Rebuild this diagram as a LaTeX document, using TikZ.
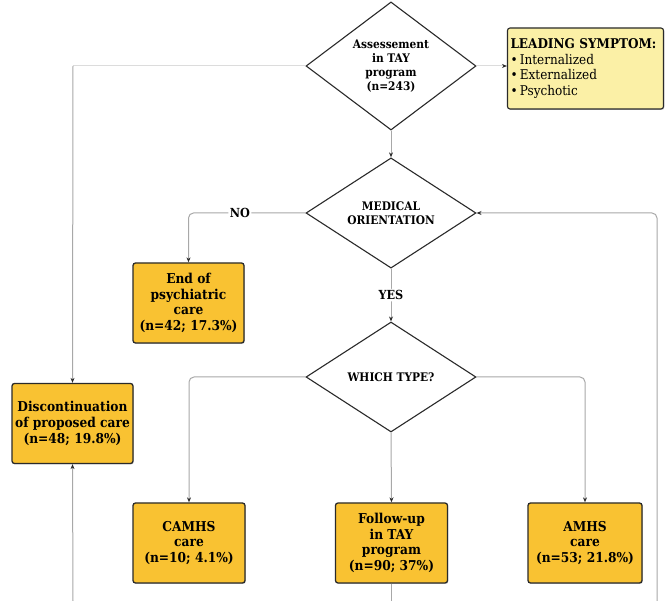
\documentclass[tikz,border=0pt]{standalone}
\usepackage{fontspec}
\setmainfont{DejaVu Serif Condensed}
\usetikzlibrary{shapes.geometric,arrows.meta,shadows}
\definecolor{boxfill}{HTML}{F9C232}
\definecolor{leadfill}{HTML}{FBF0A6}
\definecolor{linegray}{HTML}{A8A8A8}
\definecolor{edgedark}{HTML}{2A2A2A}
\tikzset{
  decision/.style={draw=edgedark, line width=1.1pt, fill=white, shape=diamond, inner sep=0pt,
    minimum width=170pt, minimum height=110pt, align=center,
    font=\fontsize{11.8}{13.8}\selectfont\bfseries},
  outcome/.style={draw=edgedark, line width=1.3pt, fill=boxfill, rounded corners=2.5pt,
    align=center, inner sep=2pt, minimum height=80pt,
    font=\fontsize{13.6}{15.8}\selectfont\bfseries,
    drop shadow={shadow xshift=0.8pt, shadow yshift=-1pt, opacity=0.35}},
  leadbox/.style={draw=edgedark, line width=1.1pt, fill=leadfill, rounded corners=2.5pt,
    align=left, inner sep=3pt, minimum width=155pt, minimum height=81pt, text width=150pt,
    font=\fontsize{13.4}{15.6}\selectfont,
    drop shadow={shadow xshift=0.8pt, shadow yshift=-1pt, opacity=0.35}},
  conn/.style={draw=linegray, line width=1pt, rounded corners=5pt},
  tipdark/.style={-{Stealth[length=5pt,width=4pt,color=edgedark,fill=edgedark]}},
  arr/.style={conn, tipdark},
  faint/.style={draw=linegray!40, line width=1pt},
  lbl/.style={fill=white, inner sep=1.5pt, font=\fontsize{12.5}{14}\selectfont\bfseries}
}
\begin{document}
\begin{tikzpicture}[x=1pt,y=-1pt]
\useasboundingbox (0,0) rectangle (665,601);
% decisions
\node[decision] (d1) at (391,66) {Assessement\\in TAY\\program\\(n=243)};
\node[decision] (d2) at (391,213) {MEDICAL\\ORIENTATION};
\node[decision] (d3) at (391,377) {WHICH TYPE?};
% outcomes
\node[outcome, minimum width=121pt] (disc) at (72.5,423.5) {Discontinuation\\of proposed care\\(n=48; 19.8\%)};
\node[outcome, minimum width=111pt] (endc) at (188.5,303) {End of\\psychiatric\\care\\(n=42; 17.3\%)};
\node[outcome, minimum width=112pt] (camhs) at (189,543) {CAMHS\\care\\(n=10; 4.1\%)};
\node[outcome, minimum width=112pt] (follow) at (391.5,543) {Follow-up\\in TAY\\program\\(n=90; 37\%)};
\node[outcome, minimum width=114pt] (amhs) at (585,543) {AMHS\\care\\(n=53; 21.8\%)};
\node[leadbox] (lead) at (585.5,68.5) {\textbf{LEADING SYMPTOM:}\\\textbullet\,Internalized\\\textbullet\,Externalized\\\textbullet\,Psychotic};
% free ends at the bottom edge
\coordinate (bl) at (73,601);
\coordinate (bm) at (391.5,601);
\coordinate (br) at (657,601);
\coordinate (rt) at (657,213);
\coordinate (tl) at (73,66);
% connectors
\draw[faint] (d1.west) -- (tl);
\draw[arr] (tl) -- (disc.north);
\draw[faint, tipdark] (d1.east) -- (lead.west |- d1.east);
\draw[arr] (d1.south) -- (d2.north);
\draw[arr] (d2.west) -| node[lbl, pos=0.28] {NO} (endc.north);
\draw[arr] (d2.south) -- node[lbl, pos=0.5] {YES} (d3.north);
\draw[arr] (d3.west) -| (camhs.north);
\draw[arr] (d3.east) -| (amhs.north);
\draw[arr] (d3.south) -- (follow.north);
\draw[conn] (follow.south) -- (bm);
\draw[arr] (bl) -- (disc.south);
\draw[arr] (br) -- (rt) -- (d2.east);
\end{tikzpicture}
\end{document}
